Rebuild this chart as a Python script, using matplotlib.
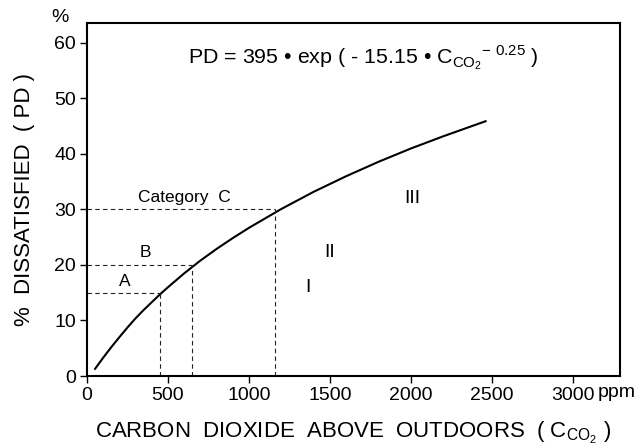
import matplotlib.pyplot as plt

plt.rcParams['font.family'] = ['Liberation Sans', 'DejaVu Sans']
plt.rcParams['mathtext.fontset'] = 'custom'
plt.rcParams['mathtext.rm'] = 'Liberation Sans'

# curve (ppm above outdoors, % dissatisfied)
co2 = [50, 75, 100, 150, 200, 250, 300, 350, 400, 450, 500, 600, 700, 800, 900,
       1000, 1100, 1200, 1400, 1600, 1800, 2000, 2200, 2460]
pd_vals = [1.3, 2.3, 3.3, 5.2, 7.0, 8.75, 10.4, 11.9, 13.3, 14.7, 16.0, 18.5, 20.8,
           22.9, 24.85, 26.7, 28.4, 30.1, 33.2, 36.0, 38.6, 41.0, 43.2, 45.9]

# category limits
cat_co2 = [450, 650, 1160]
cat_pd = [15, 20, 30]

xticks = [0, 500, 1000, 1500, 2000, 2500, 3000]
yticks = [0, 10, 20, 30, 40, 50, 60]

fig = plt.figure(figsize=(6.4, 4.48), dpi=100)
ax = fig.add_axes([87 / 640, 72 / 448, 533 / 640, 353 / 448])

ax.plot(co2, pd_vals, color='black', lw=1.5)
for cx, cy in zip(cat_co2, cat_pd):
    ax.plot([0, cx], [cy, cy], color='#222222', lw=0.8, ls=(0, (4, 3)))
    ax.plot([cx, cx], [0, cy], color='#222222', lw=0.8, ls=(0, (4, 3)))

ax.set_xlim(0, 3290)
ax.set_ylim(0, 63.6)
ax.set_xticks(xticks)
ax.set_yticks(yticks)
ax.set_xticklabels([str(v) for v in xticks], fontsize=14)
ax.set_yticklabels([str(v) for v in yticks], fontsize=14)
ax.tick_params(direction='out', length=5, width=1, pad=3)
for s in ax.spines.values():
    s.set_linewidth(1.5)

ax.text(3150, -1.45, 'ppm', fontsize=14, ha='left', va='top')
ax.text(-170, 64.6, '%', fontsize=14, ha='center', va='center', clip_on=False)

ax.text(1704, 57.3, r'PD = 395 • exp ( - 15.15 • C$_{\mathregular{CO_2}}$$^{\mathregular{-\ 0.25}}$ )',
        fontsize=15.4, ha='center', va='center')
ax.text(600, 32.1, 'Category  C', fontsize=12.5, ha='center', va='center')
ax.text(358, 22.3, 'B', fontsize=12.5, ha='center', va='center')
ax.text(235, 17.0, 'A', fontsize=12.5, ha='center', va='center')
ax.text(1364, 16.0, 'I', fontsize=14, ha='center', va='center')
ax.text(1500, 22.3, 'II', fontsize=14, ha='center', va='center')
ax.text(2006, 32.0, 'III', fontsize=14, ha='center', va='center')

ax.set_xlabel(r'CARBON  DIOXIDE  ABOVE  OUTDOORS  ( C$_{\mathregular{CO_2}}$ )', fontsize=16, labelpad=11)
ax.set_ylabel('%  DISSATISFIED  ( PD )', fontsize=16, labelpad=14)

fig.savefig('out.png', dpi=100)
